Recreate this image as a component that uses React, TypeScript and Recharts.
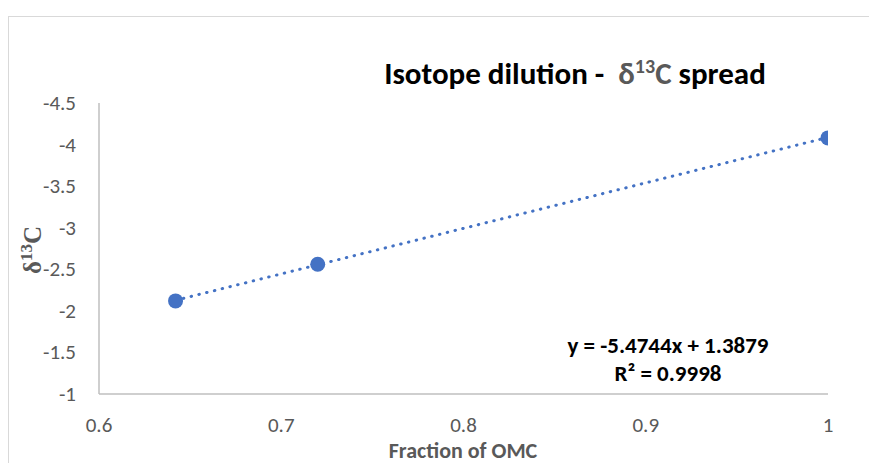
import React from 'react';
import { ScatterChart, Scatter, XAxis, YAxis, Customized } from 'recharts';

const fractionOMC = [0.642, 0.72, 1.0];
const d13C = [-2.12, -2.56, -4.08];
const trendX = [0.642, 1.0];
const trendY = [-2.127, -4.087];
const xTicks = [0.6, 0.7, 0.8, 0.9, 1];
const yTicks = [-4.5, -4, -3.5, -3, -2.5, -2, -1.5, -1];
const equationLines = ['y = -5.4744x + 1.3879', 'R² = 0.9998'];

const points = fractionOMC.map((x, i) => ({ x, y: d13C[i] }));
const trend = trendX.map((x, i) => ({ x, y: trendY[i] }));

const BLUE = '#4472C4';
const GRAY = '#595959';
const FONT = 'Carlito, Calibri, Lato, "Open Sans", sans-serif';

const Dot = (props: any) => {
  const { cx, cy } = props;
  if (cx == null || cy == null) return null;
  return <circle cx={cx} cy={cy} r={7.5} fill={BLUE} />;
};
const NoDot = () => null;

const XTick = (props: any) => {
  const { x, y, payload } = props;
  return (
    <text x={x} y={y + 16} textAnchor="middle" fontFamily={FONT} fontSize={21} fill={GRAY}>
      {payload.value}
    </text>
  );
};
const YTick = (props: any) => {
  const { x, y, payload } = props;
  return (
    <text x={x} y={y + 7} textAnchor="end" fontFamily={FONT} fontSize={21} fill={GRAY}>
      {payload.value}
    </text>
  );
};

const Overlay = () => (
  <g>
    <text x={575} y={84} textAnchor="middle" fontFamily={FONT} fontWeight="bold" fontSize={31} fill="#000" style={{ whiteSpace: 'pre' }}>
      <tspan>{'Isotope dilution -  '}</tspan>
      <tspan fill={GRAY}>δ</tspan>
      <tspan fill={GRAY} fontSize={20} dy={-11}>13</tspan>
      <tspan fill={GRAY} dy={11}>C</tspan>
      <tspan>{' spread'}</tspan>
    </text>
    <text x={668} y={353} textAnchor="middle" fontFamily={FONT} fontWeight="bold" fontSize={23} fill="#000">
      {equationLines[0]}
    </text>
    <text x={668} y={381} textAnchor="middle" fontFamily={FONT} fontWeight="bold" fontSize={23} fill="#000">
      {equationLines[1]}
    </text>
    <text transform="translate(41,250) rotate(-90)" textAnchor="middle" fontFamily='"Liberation Serif", serif' fontWeight="bold" fontSize={25} fill={GRAY}>
      <tspan>δ</tspan>
      <tspan fontSize={17} dy={-9}>13</tspan>
      <tspan dy={9}>C</tspan>
    </text>
    <text x={463} y={458} textAnchor="middle" fontFamily={FONT} fontWeight="bold" fontSize={22} fill={GRAY}>
      Fraction of OMC
    </text>
  </g>
);

export default function App() {
  return (
    <div style={{ position: 'absolute', left: 0, top: 0, width: 869, height: 463, background: '#fff', overflow: 'hidden' }}>
      <div style={{ position: 'absolute', left: 8, top: 16, width: 900, height: 500, border: '1px solid #d9d9d9', boxSizing: 'border-box' }} />
      <div style={{ position: 'absolute', left: 0, top: 0 }}>
        <ScatterChart width={869} height={463} margin={{ top: 103, right: 41, bottom: 0, left: 0 }}>
          <XAxis
            type="number"
            dataKey="x"
            domain={[0.6, 1]}
            ticks={xTicks}
            allowDataOverflow
            height={69}
            tickLine={false}
            tickSize={0}
            tickMargin={22}
            axisLine={{ stroke: '#bfbfbf', strokeWidth: 1.5 }}
            tick={XTick}
          />
          <YAxis
            type="number"
            dataKey="y"
            domain={[-4.5, -1]}
            ticks={yTicks}
            reversed
            allowDataOverflow
            width={99}
            tickLine={false}
            tickSize={0}
            tickMargin={23}
            axisLine={{ stroke: '#bfbfbf', strokeWidth: 1.5 }}
            tick={YTick}
          />
          <Scatter
            data={trend}
            isAnimationActive={false}
            line={{ stroke: BLUE, strokeWidth: 3, strokeDasharray: '0.5 7.5', strokeLinecap: 'round' }}
            shape={NoDot}
            fill={BLUE}
          />
          <Scatter data={points} isAnimationActive={false} shape={Dot} fill={BLUE} />
          <Customized component={Overlay} />
        </ScatterChart>
      </div>
    </div>
  );
}
